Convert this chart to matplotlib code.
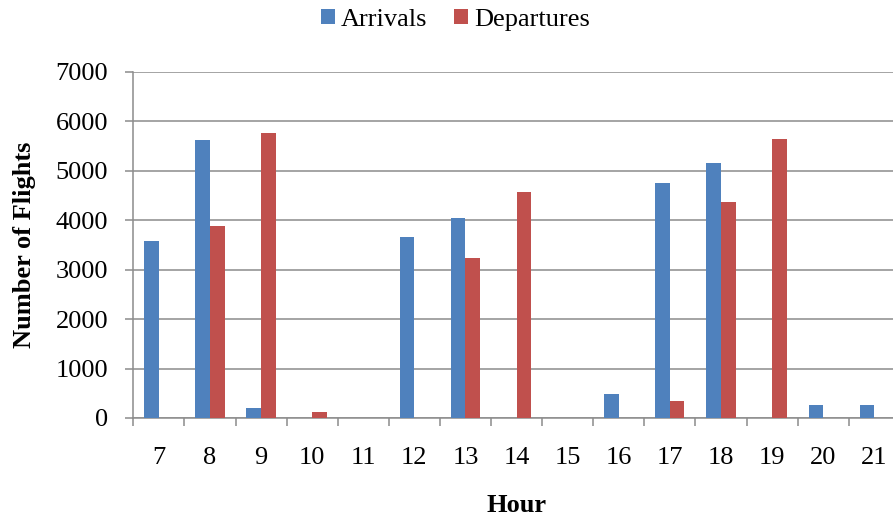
import matplotlib
matplotlib.use("Agg")
import matplotlib.pyplot as plt
import numpy as np

hours = ["7", "8", "9", "10", "11", "12", "13", "14", "15", "16", "17", "18", "19", "20", "21"]
arrivals = [3580, 5630, 210, 0, 0, 3660, 4045, 0, 0, 478, 4750, 5155, 0, 262, 256]
departures = [0, 3875, 5775, 128, 0, 0, 3237, 4570, 0, 0, 350, 4360, 5635, 0, 0]
y_ticks = [0, 1000, 2000, 3000, 4000, 5000, 6000, 7000]

plt.rcParams["font.family"] = ["Liberation Serif", "DejaVu Serif"]
FS = 19
GRID = "#8c8c8c"
BLUE = "#4F81BD"
RED = "#C0504D"

W, H, DPI = 893, 521, 100
fig = plt.figure(figsize=(W / DPI, H / DPI), dpi=DPI)
# plot area runs slightly past the right edge of the canvas
ax = fig.add_axes([133.3 / W, 103 / H, 766.5 / W, 346 / H])

x = np.arange(len(hours))
bw = 1 / 3.5
ax.bar(x - bw / 2, arrivals, width=bw, color=BLUE, label="Arrivals", zorder=3)
ax.bar(x + bw / 2, departures, width=bw, color=RED, label="Departures", zorder=3)

ax.set_xlim(-0.5, len(hours) - 0.5)
ax.set_ylim(0, 7000)
ax.set_yticks(y_ticks)
ax.set_yticklabels([str(v) for v in y_ticks], fontsize=FS)
ax.yaxis.grid(True, color=GRID, linewidth=1.1, zorder=0)
ax.set_axisbelow(True)

ax.set_xticks(x)
ax.set_xticklabels(hours, fontsize=FS)
ax.set_xticks(np.arange(-0.5, len(hours), 1.0), minor=True)
ax.tick_params(axis="x", which="major", length=0, pad=21)
ax.tick_params(axis="x", which="minor", length=6, width=1.1, color=GRID, direction="out")
ax.tick_params(axis="y", which="major", length=6, width=1.1, color=GRID, direction="out", pad=12)

for side in ("top", "right"):
    ax.spines[side].set_visible(False)
for side in ("left", "bottom"):
    ax.spines[side].set_color(GRID)
    ax.spines[side].set_linewidth(1.1)

ax.set_xlabel("Hour", fontsize=FS, fontweight="bold", labelpad=18)
ax.set_ylabel("Number of Flights", fontsize=FS, fontweight="bold", labelpad=14)

fig.legend(loc="center", bbox_to_anchor=(455.5 / W, 1 - 20 / H), ncol=2, frameon=False,
           fontsize=FS, handlelength=0.53, handleheight=0.53, handletextpad=0.25,
           columnspacing=1.0, borderpad=0)

fig.savefig("out.png", dpi=DPI)
